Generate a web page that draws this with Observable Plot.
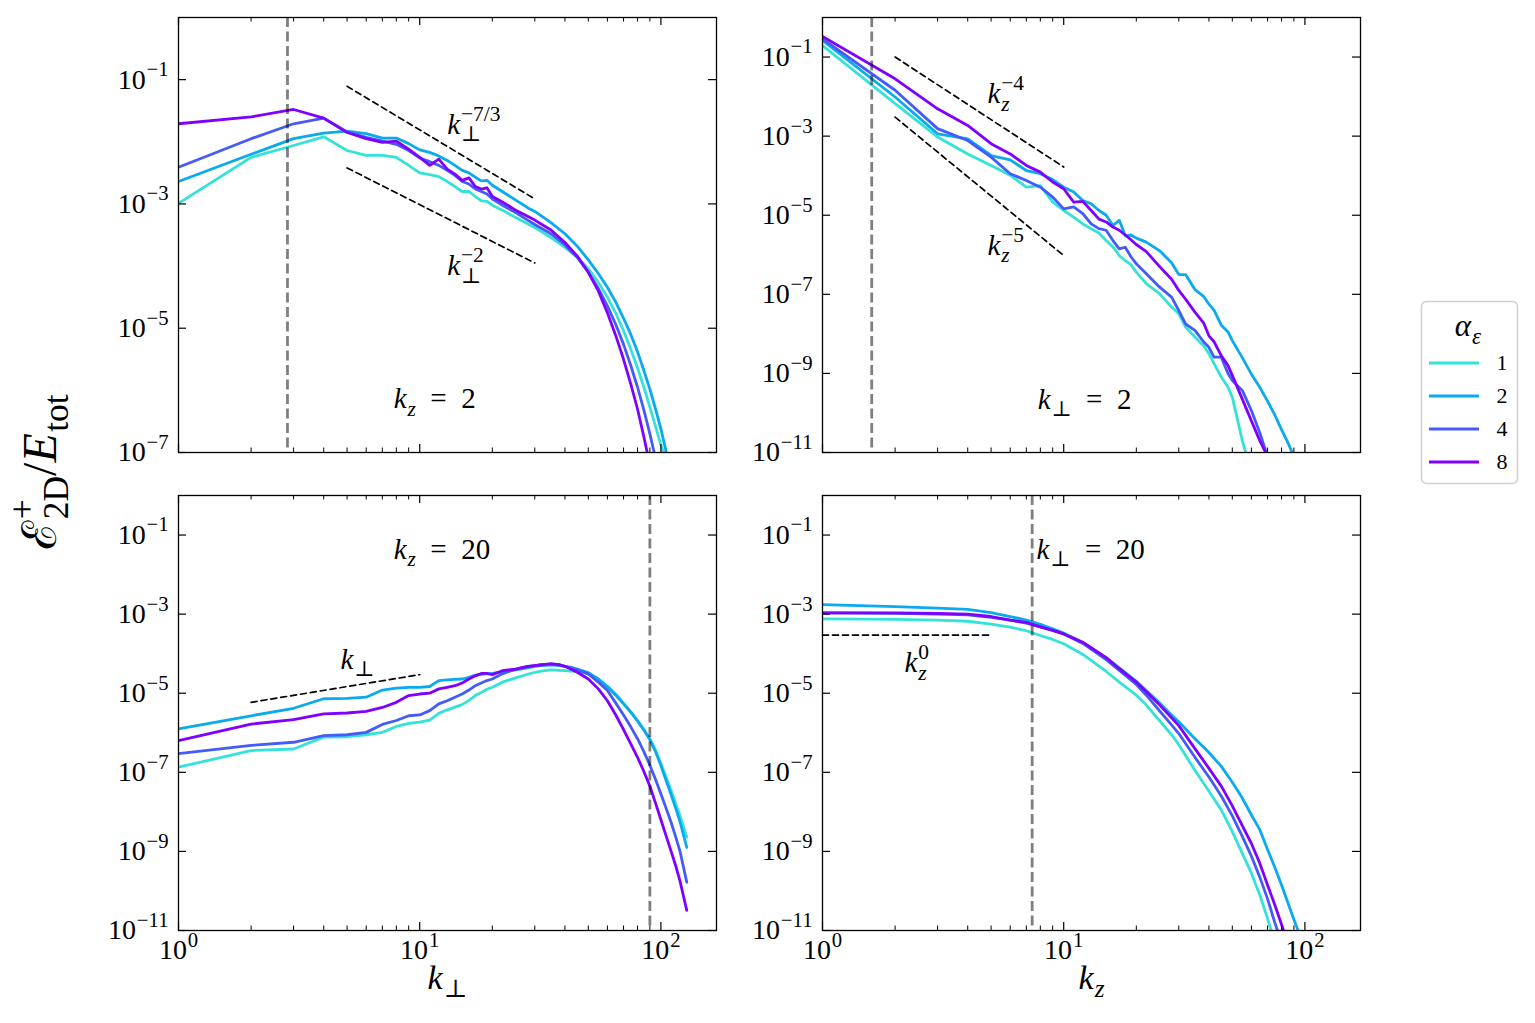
<!DOCTYPE html>
<html>
<head>
<meta charset="utf-8">
<script src="https://cdn.jsdelivr.net/npm/d3@7"></script>
<script src="https://cdn.jsdelivr.net/npm/@observablehq/plot@0.6"></script>
<style>
  body { margin: 0; background: #fff; }
  #page { position: relative; width: 1535px; height: 1023px; background: #fff; overflow: hidden; }
  .slot { position: absolute; }
  .slot svg { display: block; max-width: none !important; }
  .slot svg, .slot svg text { font-family: 'Liberation Serif','DejaVu Serif','Noto Serif',serif !important; }
</style>
</head>
<body>
<div id="page"></div>
<script>
// ---------------- data ----------------
const ALPHAS = [1, 2, 4, 8];
const COLORS = ["#33e3d9", "#09aaee", "#445bfa", "#8000ff"];

const X_MAJOR = [1, 10, 100];
const X_MINOR = [2, 3, 4, 5, 6, 7, 8, 9, 20, 30, 40, 50, 60, 70, 80, 90];
const X_LABELS = ["10^{0}", "10^{1}", "10^{2}"];

const Y_TICKS_TOP = [1e-1, 1e-3, 1e-5, 1e-7];
const Y_LABELS_TOP = ["10^{−1}", "10^{−3}", "10^{−5}", "10^{−7}"];
const Y_TICKS_WIDE = [1e-1, 1e-3, 1e-5, 1e-7, 1e-9, 1e-11];
const Y_LABELS_WIDE = ["10^{−1}", "10^{−3}", "10^{−5}", "10^{−7}", "10^{−9}", "10^{−11}"];

// log10 of E^+_2D / E_tot
// Top-left: k_z = 2, versus k_perp
const kTL = [1,2,3,4,5,6,7,8,9,10,11,12,13,14,15,16,17,18,19,20,22,25,28,30,35,40,45,50,55,60,65,70,75,80,85,90,95,100,106];
const tl_a1 = [-2.99,-2.25,-2.06,-1.92,-2.14,-2.22,-2.22,-2.25,-2.38,-2.50,-2.53,-2.56,-2.64,-2.72,-2.80,-2.80,-2.88,-2.95,-2.96,-3.02,
               -3.10,-3.22,-3.32,-3.38,-3.54,-3.70,-3.86,-4.04,-4.26,-4.50,-4.76,-5.04,-5.34,-5.64,-5.95,-6.27,-6.58,-6.88,-7.15];
const tl_a2 = [-2.64,-2.20,-1.95,-1.86,-1.83,-1.87,-1.94,-1.94,-2.03,-2.13,-2.17,-2.23,-2.30,-2.38,-2.46,-2.50,-2.57,-2.63,-2.62,-2.70,
               -2.80,-2.94,-3.06,-3.12,-3.30,-3.48,-3.68,-3.90,-4.12,-4.34,-4.58,-4.84,-5.10,-5.38,-5.68,-5.98,-6.30,-6.62,-7.05];
const tl_a4 = [-2.41,-1.95,-1.71,-1.62,-1.84,-1.93,-1.99,-2.04,-2.14,-2.26,-2.32,-2.38,-2.46,-2.54,-2.64,-2.68,-2.76,-2.80,-2.84,-2.92,
               -3.02,-3.14,-3.26,-3.33,-3.48,-3.66,-3.86,-4.10,-4.36,-4.64,-4.94,-5.26,-5.60,-5.95,-6.32,-6.70,-7.10];
const tl_a8 = [-1.71,-1.60,-1.48,-1.62,-1.85,-1.95,-2.01,-1.99,-2.12,-2.25,-2.38,-2.28,-2.44,-2.52,-2.62,-2.58,-2.72,-2.76,-2.74,-2.88,
               -2.97,-3.10,-3.20,-3.26,-3.42,-3.62,-3.84,-4.10,-4.40,-4.75,-5.12,-5.50,-5.90,-6.30,-6.75,-7.20];

// Top-right: k_perp = 2, versus k_z
const kTR = [1,2,3,4,5,6,7,8,9,10,11,12,13,14,15,16,17,18,19,20,22,25,28,30,32,35,38,40,42,45,48,50,55,60,65,70,75,80,85,90];
const tr_a1 = [-0.71,-2.18,-3.02,-3.45,-3.74,-3.99,-4.29,-4.25,-4.67,-4.88,-5.05,-5.22,-5.34,-5.45,-5.64,-5.80,-6.02,-6.15,-6.25,-6.44,
               -6.73,-6.99,-7.32,-7.49,-7.83,-8.08,-8.30,-8.50,-8.75,-9.09,-9.35,-9.60,-10.70,-11.50];
const tr_a2 = [-0.58,-2.01,-2.94,-3.07,-3.49,-3.60,-3.87,-3.95,-4.10,-4.29,-4.41,-4.63,-4.71,-4.88,-5.00,-5.26,-5.13,-5.52,-5.50,-5.58,
               -5.68,-5.90,-6.20,-6.50,-6.50,-6.88,-7.05,-7.25,-7.40,-7.78,-7.95,-8.17,-8.60,-9.02,-9.35,-9.70,-10.05,-10.42,-10.75,-11.10];
const tr_a4 = [-0.54,-1.84,-2.81,-3.11,-3.53,-3.95,-4.12,-4.29,-4.54,-4.84,-4.79,-4.96,-5.22,-5.34,-5.38,-5.64,-5.85,-5.81,-6.05,-6.23,
               -6.48,-6.82,-7.07,-7.41,-7.75,-7.91,-8.20,-8.34,-8.59,-8.59,-9.00,-9.18,-9.43,-9.94,-10.50,-11.10];
const tr_a8 = [-0.48,-1.55,-2.31,-2.73,-3.19,-3.45,-3.74,-3.91,-4.16,-4.33,-4.67,-4.65,-4.88,-5.10,-5.17,-5.30,-5.38,-5.50,-5.62,-5.74,
               -5.92,-6.30,-6.62,-6.90,-7.12,-7.45,-7.72,-8.05,-8.20,-8.55,-8.80,-9.05,-9.65,-10.20,-10.70,-11.10];

// Bottom-left: k_z = 20, versus k_perp
const kBL = [1,2,3,4,5,6,7,8,9,10,11,12,13,14,15,16,17,18,19,20,22,25,28,30,32,35,38,40,42,45,50,55,60,65,70,75,80,85,90,95,100,105,110,115,120,128];
const bl_a1 = [-6.87,-6.45,-6.41,-6.11,-6.10,-6.05,-5.99,-5.84,-5.76,-5.73,-5.68,-5.51,-5.42,-5.35,-5.29,-5.18,-5.06,-4.98,-4.90,-4.85,
               -4.72,-4.61,-4.52,-4.47,-4.44,-4.41,-4.42,-4.43,-4.44,-4.45,
               -4.51,-4.64,-4.82,-5.02,-5.25,-5.47,-5.70,-5.92,-6.15,-6.44,-6.78,-7.12,-7.45,-7.78,-8.10,-8.64];
const bl_a2 = [-5.90,-5.57,-5.38,-5.14,-5.13,-5.10,-4.92,-4.87,-4.85,-4.85,-4.83,-4.68,-4.66,-4.65,-4.64,-4.60,-4.54,-4.52,-4.51,-4.50,
               -4.46,-4.41,-4.36,-4.32,-4.30,-4.28,-4.30,-4.32,-4.34,-4.39,
               -4.48,-4.64,-4.84,-5.05,-5.27,-5.48,-5.70,-5.93,-6.18,-6.48,-6.83,-7.20,-7.55,-7.90,-8.25,-8.90];
const bl_a4 = [-6.53,-6.32,-6.24,-6.07,-6.05,-5.99,-5.79,-5.69,-5.57,-5.55,-5.44,-5.27,-5.19,-5.10,-5.02,-4.92,-4.81,-4.74,-4.68,-4.64,
               -4.51,-4.39,-4.33,-4.30,-4.28,-4.26,-4.28,-4.32,-4.35,-4.41,
               -4.51,-4.72,-4.93,-5.25,-5.55,-5.85,-6.15,-6.48,-6.82,-7.18,-7.55,-7.90,-8.25,-8.62,-9.00,-9.78];
const bl_a8 = [-6.20,-5.78,-5.67,-5.52,-5.50,-5.46,-5.36,-5.23,-5.06,-5.02,-5.00,-4.89,-4.85,-4.81,-4.74,-4.64,-4.56,-4.50,-4.50,-4.53,
               -4.43,-4.39,-4.32,-4.30,-4.28,-4.26,-4.28,-4.32,-4.38,-4.47,
               -4.64,-4.89,-5.19,-5.55,-5.92,-6.28,-6.62,-6.98,-7.35,-7.78,-8.20,-8.60,-8.98,-9.35,-9.75,-10.49];

// Bottom-right: k_perp = 20, versus k_z
const kBR = [1,2,3,4,5,6,7,8,9,10,12,15,17,20,22,25,28,30,35,40,45,50,55,60,65,70,75,80,85,90,95];
const br_a1 = [-3.12,-3.13,-3.15,-3.18,-3.25,-3.33,-3.42,-3.54,-3.64,-3.75,-4.02,-4.45,-4.72,-5.05,-5.30,-5.70,-6.05,-6.30,-6.95,-7.48,
               -7.95,-8.50,-9.05,-9.55,-10.10,-10.70,-11.30];
const br_a2 = [-2.76,-2.81,-2.85,-2.88,-2.96,-3.06,-3.15,-3.26,-3.37,-3.48,-3.72,-4.10,-4.36,-4.70,-4.93,-5.25,-5.55,-5.72,-6.15,-6.50,
               -6.85,-7.25,-7.65,-8.08,-8.45,-8.95,-9.40,-9.85,-10.30,-10.72,-11.10];
const br_a4 = [-2.97,-2.98,-3.00,-3.02,-3.08,-3.15,-3.23,-3.32,-3.41,-3.50,-3.74,-4.15,-4.42,-4.78,-5.05,-5.45,-5.80,-6.02,-6.62,-7.12,
               -7.60,-8.10,-8.62,-9.12,-9.65,-10.20,-10.80,-11.30];
const br_a8 = [-2.97,-2.97,-2.98,-3.00,-3.06,-3.15,-3.21,-3.32,-3.41,-3.50,-3.71,-4.10,-4.38,-4.72,-4.96,-5.30,-5.62,-5.82,-6.40,-6.90,
               -7.35,-7.85,-8.35,-8.80,-9.30,-9.85,-10.35,-10.85,-11.30];

// guide lines (power laws), endpoints: [k, log10 E]
const guideTL_73 = [[5, -1.107], [30, -2.92]];
const guideTL_2  = [[5, -2.42], [30, -3.95]];
const guideTR_4  = [[2, -1.00], [10, -3.78]];
const guideTR_5  = [[2, -2.52], [10, -6.02]];
const guideBL_1  = [[2, -5.23], [10, -4.53]];
const guideBR_0  = [[1, -3.53], [5, -3.53]];

// vertical markers
const vTL = [2.83], vTR = [1.6], vBL = [90], vBR = [7.4];

// ---------------- helpers ----------------
const FONT = "'Liberation Serif','DejaVu Serif','Noto Serif',serif";
const FW = 538, FH = 435;
const EQ = "\u2002=\u2002";

function rows(k, list) {
  return list.flatMap((vals, si) => vals.map((v, i) => ({k: k[i], E: 10 ** v, alpha: ALPHAS[si]})));
}
function guide(g) { return g.map(([k, v]) => ({k, E: 10 ** v})); }

function splitRuns(t) {
  const out = [];
  for (const ch of t) {
    const it = /[A-Za-zαε]/.test(ch);
    if (out.length && out[out.length - 1][1] === it) out[out.length - 1][0] += ch;
    else out.push([ch, it]);
  }
  return out;
}

function mathify(root) {
  root.querySelectorAll("text").forEach(el => {
    el.style.fontFamily = FONT;
    const s = el.textContent;
    if (!/[_^]\{/.test(s) && !/[a-zα]/.test(s)) return;
    const fs = parseFloat(getComputedStyle(el).fontSize);
    const groups = [];
    let i = 0, buf = "";
    while (i < s.length) {
      const c = s[i];
      if ((c === "_" || c === "^") && s[i + 1] === "{") {
        if (buf) { groups.push({kind: "base", text: buf}); buf = ""; }
        const j = s.indexOf("}", i);
        groups.push({kind: c === "_" ? "sub" : "sup", text: s.slice(i + 2, j)});
        i = j + 1;
      } else { buf += c; i++; }
    }
    if (buf) groups.push({kind: "base", text: buf});
    el.textContent = "";
    let cur = 0, prev = null;
    for (const g of groups) {
      let txt = g.text, upright = false;
      if (txt.startsWith("!")) { upright = true; txt = txt.slice(1); }
      const size = g.kind === "base" ? fs : 0.74 * fs;
      const shift = g.kind === "sup" ? -0.45 * fs : g.kind === "sub" ? 0.25 * fs : 0;
      const runs = upright ? [[txt, false]] : splitRuns(txt);
      const spans = [];
      runs.forEach(([t, it], ri) => {
        const ts = document.createElementNS("http://www.w3.org/2000/svg", "tspan");
        ts.textContent = t;
        if (ri === 0) {
          ts.setAttribute("dy", (shift - cur).toFixed(2));
          cur = shift;
          let dx = g.kind !== "base" ? 0.03 * fs : 0;
          if (prev && prev.kind !== "base" && g.kind !== "base" && prev.kind !== g.kind) dx = -prev.width;
          if (dx) ts.setAttribute("dx", dx.toFixed(2));
        }
        if (g.kind !== "base") ts.setAttribute("font-size", size);
        if (it) ts.setAttribute("font-style", "italic");
        el.appendChild(ts);
        spans.push(ts);
      });
      const width = spans.reduce((a, t) => a + t.getComputedTextLength(), 0);
      prev = {kind: g.kind, width};
    }
  });
}

const page = document.getElementById("page");
function place(node, left, top, w, h) {
  const d = document.createElement("div");
  d.className = "slot";
  d.style.left = left + "px"; d.style.top = top + "px";
  d.style.width = w + "px"; d.style.height = h + "px";
  node.style.fontFamily = FONT;
  node.setAttribute("font-family", FONT);
  d.appendChild(node);
  page.appendChild(d);
  mathify(node);
}

function panel(cfg) {
  const data = rows(cfg.k, cfg.series);
  const yLab = new Map(cfg.yTicks.map((t, i) => [t, cfg.yLabels[i]]));
  const marks = [
    ...cfg.guides.map(g => Plot.line(guide(g), {x: "k", y: "E", stroke: "black", strokeWidth: 1.7, strokeDasharray: "6,4"})),
    Plot.line(data, {x: "k", y: "E", z: "alpha", stroke: "alpha", strokeWidth: 2.8, clip: true}),
    Plot.ruleX(cfg.vline, {stroke: "black", strokeOpacity: 0.5, strokeWidth: 2.8, strokeDasharray: "10,4.5"}),
    Plot.tickX(X_MAJOR, {x: d => d, insetTop: FH - 8, stroke: "black", strokeWidth: 1.2}),
    Plot.tickX(X_MAJOR, {x: d => d, insetBottom: FH - 8, stroke: "black", strokeWidth: 1.2}),
    Plot.tickX(X_MINOR, {x: d => d, insetTop: FH - 4.5, stroke: "black", strokeWidth: 1}),
    Plot.tickX(X_MINOR, {x: d => d, insetBottom: FH - 4.5, stroke: "black", strokeWidth: 1}),
    Plot.tickY(cfg.yTicks, {y: d => d, insetRight: FW - 8, stroke: "black", strokeWidth: 1.2}),
    Plot.tickY(cfg.yTicks, {y: d => d, insetLeft: FW - 8, stroke: "black", strokeWidth: 1.2}),
    Plot.axisY(cfg.yTicks, {tickSize: 0, tickPadding: 10, tickFormat: d => yLab.get(d), fontSize: 28, label: null}),
    Plot.frame({stroke: "black", strokeWidth: 1.3}),
    ...cfg.notes.map(n => Plot.text([n], {x: "k", y: "E", text: "t", fontSize: 29, textAnchor: "start", lineAnchor: "bottom", fill: "black"}))
  ];
  if (cfg.bottom) {
    marks.push(Plot.axisX(X_MAJOR, {tickSize: 0, tickPadding: 9, tickFormat: d => X_LABELS[X_MAJOR.indexOf(d)], fontSize: 28, label: null}));
    marks.push(Plot.text([cfg.xLabel], {frameAnchor: "bottom", dy: 58, text: d => d, fontSize: 34, lineAnchor: "bottom"}));
  }
  const height = cfg.bottom ? 545 : 470;
  const svg = Plot.plot({
    width: 642, height,
    marginLeft: 80, marginRight: 24, marginTop: 17, marginBottom: height - 17 - FH,
    style: {fontFamily: FONT, fontSize: "28px", background: "white", color: "black", overflow: "visible"},
    x: {type: "log", domain: [1, 170], label: null, axis: cfg.bottom ? undefined : null},
    y: {type: "log", domain: cfg.yDomain, label: null, axis: null},
    color: {type: "ordinal", domain: ALPHAS, range: COLORS},
    marks
  });
  place(svg, cfg.left, cfg.top, 642, height);
}

panel({left: 98, top: 0, bottom: false, k: kTL, series: [tl_a1, tl_a2, tl_a4, tl_a8],
  yDomain: [1e-7, 1], yTicks: Y_TICKS_TOP, yLabels: Y_LABELS_TOP,
  guides: [guideTL_73, guideTL_2], vline: vTL,
  notes: [{k: 13.0, E: 10 ** -1.87, t: "k_{⊥}^{−7/3}"}, {k: 13.0, E: 10 ** -4.15, t: "k_{⊥}^{−2}"}, {k: 7.8, E: 10 ** -6.29, t: "k_{z}" + EQ + "2"}]});

panel({left: 742, top: 0, bottom: false, k: kTR, series: [tr_a1, tr_a2, tr_a4, tr_a8],
  yDomain: [1e-11, 1], yTicks: Y_TICKS_WIDE, yLabels: Y_LABELS_WIDE,
  guides: [guideTR_4, guideTR_5], vline: vTR,
  notes: [{k: 4.83, E: 10 ** -2.17, t: "k_{z}^{−4}"}, {k: 4.83, E: 10 ** -6.01, t: "k_{z}^{−5}"}, {k: 7.8, E: 10 ** -9.9, t: "k_{⊥}" + EQ + "2"}]});

panel({left: 98, top: 478, bottom: true, xLabel: "k_{⊥}", k: kBL, series: [bl_a1, bl_a2, bl_a4, bl_a8],
  yDomain: [1e-11, 1], yTicks: Y_TICKS_WIDE, yLabels: Y_LABELS_WIDE,
  guides: [guideBL_1], vline: vBL,
  notes: [{k: 7.8, E: 10 ** -1.61, t: "k_{z}" + EQ + "20"}, {k: 4.69, E: 10 ** -4.39, t: "k_{⊥}"}]});

panel({left: 742, top: 478, bottom: true, xLabel: "k_{z}", k: kBR, series: [br_a1, br_a2, br_a4, br_a8],
  yDomain: [1e-11, 1], yTicks: Y_TICKS_WIDE, yLabels: Y_LABELS_WIDE,
  guides: [guideBR_0], vline: vBR,
  notes: [{k: 7.71, E: 10 ** -1.61, t: "k_{⊥}" + EQ + "20"}, {k: 2.19, E: 10 ** -4.47, t: "k_{z}^{0}"}]});

// ---------------- y label ----------------
{
  const s = d3.create("svg").attr("width", 98).attr("height", 1023);
  s.append("text").attr("transform", "translate(56,472) rotate(-90)")
    .attr("text-anchor", "middle").attr("font-size", 48).attr("fill", "black")
    .text("ℰ^{+}_{!2D}/E_{!tot}");
  place(s.node(), 0, 0, 98, 1023);
}

// ---------------- legend ----------------
{
  const s = d3.create("svg").attr("width", 104).attr("height", 190);
  s.append("rect").attr("x", 2.5).attr("y", 2.5).attr("width", 96).attr("height", 182).attr("rx", 5)
    .attr("fill", "white").attr("stroke", "#d0d0d0").attr("stroke-width", 1.6);
  s.append("text").attr("x", 49).attr("y", 37).attr("text-anchor", "middle").attr("font-size", 31).text("α_{ε}");
  ALPHAS.forEach((a, i) => {
    const y = 64 + i * 33;
    s.append("line").attr("x1", 10).attr("x2", 60).attr("y1", y).attr("y2", y)
      .attr("stroke", COLORS[i]).attr("stroke-width", 2.8);
    s.append("text").attr("x", 83).attr("y", y + 7).attr("text-anchor", "middle").attr("font-size", 22).text(String(a));
  });
  place(s.node(), 1419, 299, 104, 190);
}
</script>
</body>
</html>
